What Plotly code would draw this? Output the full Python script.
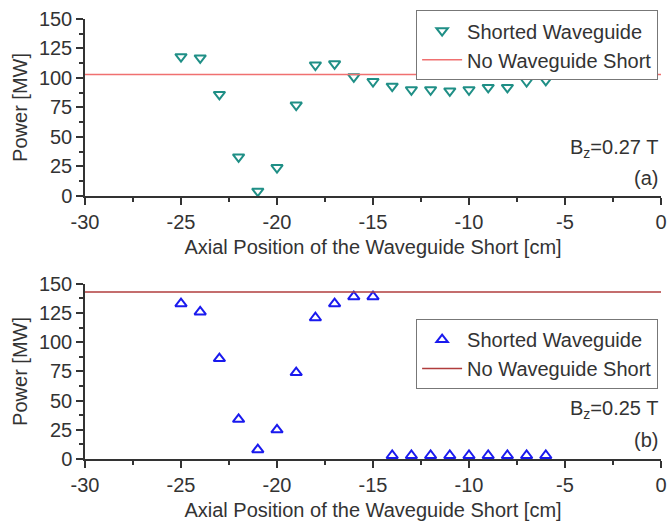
import plotly.graph_objects as go

# ---- data ----
positions = [-25, -24, -23, -22, -21, -20, -19, -18, -17, -16,
             -15, -14, -13, -12, -11, -10, -9, -8, -7, -6]
power_a = [118, 117, 86, 33, 4, 24, 77, 111, 112, 101,
           97, 93, 90, 90, 89, 90, 92, 92, 97, 98]
power_b = [133, 126, 86, 34, 8, 25, 74, 121, 133, 139,
           139, 3, 3, 3, 3, 3, 3, 3, 3, 3]
ref_x = [-30, 0]
ref_a = [103, 103]
ref_b = [143, 143]
x_ticks = [-30, -25, -20, -15, -10, -5, 0]
x_ticktext = ["-30", "-25", "-20", "-15", "-10", "-5", "0"]
y_ticks = [0, 25, 50, 75, 100, 125, 150]

FONT = "Liberation Sans, Arial, sans-serif"
TXT = "#333333"
AX = "#333333"

fig = go.Figure()

fig.add_trace(go.Scatter(x=positions, y=power_a, mode="markers", name="Shorted Waveguide",
                         marker=dict(symbol="triangle-down-open", size=10, color="#1f8f86",
                                     line=dict(width=2, color="#1f8f86")),
                         cliponaxis=False, xaxis="x", yaxis="y", legend="legend"))
fig.add_trace(go.Scatter(x=ref_x, y=ref_a, mode="lines", name="No Waveguide Short",
                         line=dict(color="#f07070", width=1.5),
                         xaxis="x", yaxis="y", legend="legend"))
fig.add_trace(go.Scatter(x=positions, y=power_b, mode="markers", name="Shorted Waveguide",
                         marker=dict(symbol="triangle-up-open", size=10, color="#1a1aee",
                                     line=dict(width=2, color="#1a1aee")),
                         cliponaxis=False, xaxis="x2", yaxis="y2", legend="legend2"))
fig.add_trace(go.Scatter(x=ref_x, y=ref_b, mode="lines", name="No Waveguide Short",
                         line=dict(color="#b03c3c", width=1.5),
                         xaxis="x2", yaxis="y2", legend="legend2"))

def xax(anchor):
    return dict(range=[-30, 0], tickvals=x_ticks, ticktext=x_ticktext, showline=True,
                linecolor=AX, linewidth=1.5, automargin=False,
                ticks="outside", ticklen=7, tickwidth=1.5, tickcolor=AX,
                minor=dict(ticks="outside", ticklen=4, dtick=2.5, tickwidth=1.5, tickcolor=AX),
                showgrid=False, zeroline=False, anchor=anchor,
                tickfont=dict(family=FONT, size=20, color=TXT),
                title=dict(text="Axial Position of the Waveguide Short [cm]",
                           font=dict(family=FONT, size=20, color=TXT), standoff=8))

def yax(anchor, domain):
    return dict(range=[0, 150], tickvals=y_ticks, domain=domain, showline=True, linecolor=AX,
                linewidth=1.5, automargin=False, ticks="outside", ticklen=7, tickwidth=1.5,
                tickcolor=AX,
                minor=dict(ticks="outside", ticklen=4, dtick=12.5, tickwidth=1.5, tickcolor=AX),
                showgrid=False, zeroline=False, anchor=anchor,
                tickfont=dict(family=FONT, size=20, color=TXT),
                title=dict(text="Power [MW]", font=dict(family=FONT, size=20, color=TXT), standoff=6))

leg_common = dict(font=dict(family=FONT, size=20, color=TXT), bordercolor="#777777", borderwidth=1,
                  bgcolor="white", xanchor="right", yanchor="top", tracegroupgap=0,
                  itemwidth=40)

fig.update_layout(
    width=670, height=522,
    margin=dict(l=85, r=9, t=19, b=63, autoexpand=False),
    paper_bgcolor="white", plot_bgcolor="white",
    xaxis=xax("y"), yaxis=yax("x", [0.598, 1.0]),
    xaxis2=xax("y2"), yaxis2=yax("x2", [0.0, 0.398]),
    legend=dict(x=0.995, y=1.02, **leg_common),
    legend2=dict(x=0.995, y=0.318, **leg_common),
    showlegend=True,
    annotations=[
        dict(text="B<sub>z</sub>=0.27 T", x=0.998, y=0.705, xref="paper", yref="paper",
             xanchor="right", yanchor="middle", showarrow=False,
             font=dict(family=FONT, size=20, color=TXT)),
        dict(text="(a)", x=0.998, y=0.639, xref="paper", yref="paper",
             xanchor="right", yanchor="middle", showarrow=False,
             font=dict(family=FONT, size=20, color=TXT)),
        dict(text="B<sub>z</sub>=0.25 T", x=0.998, y=0.113, xref="paper", yref="paper",
             xanchor="right", yanchor="middle", showarrow=False,
             font=dict(family=FONT, size=20, color=TXT)),
        dict(text="(b)", x=0.998, y=0.043, xref="paper", yref="paper",
             xanchor="right", yanchor="middle", showarrow=False,
             font=dict(family=FONT, size=20, color=TXT)),
    ],
)

fig.write_html("out.html")
